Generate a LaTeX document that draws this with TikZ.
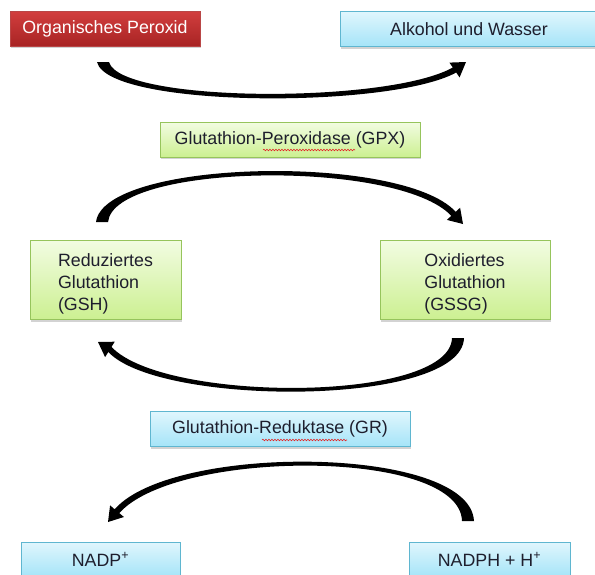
\documentclass[tikz,border=0pt]{standalone}
\usepackage{fontspec}
\setmainfont{Liberation Sans}
\usetikzlibrary{shadows,decorations.pathmorphing}
\definecolor{txtdark}{RGB}{30,30,45}
\definecolor{redtop}{RGB}{210,62,62}
\definecolor{redbot}{RGB}{168,36,36}
\definecolor{redline}{RGB}{185,70,70}
\definecolor{bluetop}{RGB}{224,246,253}
\definecolor{bluebot}{RGB}{165,228,248}
\definecolor{blueline}{RGB}{95,182,208}
\definecolor{greentop}{RGB}{242,252,226}
\definecolor{greenbot}{RGB}{204,240,145}
\definecolor{greenline}{RGB}{150,196,92}
\definecolor{spellred}{RGB}{225,40,40}

\begin{document}
\begin{tikzpicture}[
  x=1pt, y=-1pt,
  box/.style={draw, minimum height=35pt, inner sep=0pt, text=txtdark,
    font=\fontsize{17.8}{22}\selectfont,
    drop shadow={opacity=0.35, shadow xshift=1pt, shadow yshift=-2pt}},
  redbox/.style={box, draw=redline, top color=redtop, bottom color=redbot, text=white},
  bluebox/.style={box, draw=blueline, top color=bluetop, bottom color=bluebot},
  greenbox/.style={box, draw=greenline, top color=greentop, bottom color=greenbot},
  bigbox/.style={greenbox, minimum height=79pt, align=left},
  bendarrow/.style={fill=black},
  spell/.style={spellred, line width=0.6pt, decorate,
    decoration={snake, amplitude=0.8pt, segment length=3pt}}
]
\useasboundingbox (0,0) rectangle (595,574);
\clip (0,0) rectangle (595,574);

% Boxes
\node[redbox, minimum width=190pt] (perox) at (105,28.5) {Organisches Peroxid};
\node[bluebox, minimum width=258pt] (alk) at (469,29) {Alkohol und Wasser};
\node[greenbox, minimum width=260pt] (gpx) at (290,139.5) {Glutathion-Peroxidase (GPX)};
\node[bigbox, minimum width=151pt] (gsh) at (105.5,280) {\rule{0pt}{21pt}Reduziertes\\Glutathion\\(GSH)};
\node[bigbox, minimum width=170pt] (gssg) at (465,280) {\rule{0pt}{21pt}Oxidiertes\\Glutathion\\(GSSG)};
\node[bluebox, minimum width=260pt] (gr) at (280,429) {Glutathion-Reduktase (GR)};
\node[bluebox, minimum width=159pt] (nadp) at (100.5,559.5) {NADP\textsuperscript{+}};
\node[bluebox, minimum width=161pt] (nadph) at (489.5,559.5) {NADPH + H\textsuperscript{+}};

% Spelling marks
\draw[spell] (263,150) -- (355,150);
\draw[spell] (262,440) -- (347,440);

% Curved arrows (tapered bodies)
\coordinate (a1tip) at (466,62);
\coordinate (a2tip) at (463,224);
\coordinate (a3tip) at (98,342);
\coordinate (a4tip) at (108,522);

\fill[bendarrow] (97,62) .. controls (108,108) and (390,109) .. (456.2,72.5)
  -- (459.6,77.4) -- (a1tip) -- (449.4,62.6) -- (452.8,67.5)
  .. controls (388,104) and (120,103) .. (109,62) -- cycle;
\fill[bendarrow] (96,222) .. controls (104,159) and (402,153) .. (455.7,211.8)
  -- (460.1,207.7) -- (a2tip) -- (446.9,219.9) -- (451.3,215.8)
  .. controls (398,159) and (114,163) .. (108,222) -- cycle;
\fill[bendarrow] (464,338) .. controls (462,407) and (160,407) .. (108.3,352)
  -- (105.1,357.1) -- (a3tip) -- (114.7,341.7) -- (111.5,346.9)
  .. controls (164,403) and (450,403) .. (452,338) -- cycle;
\fill[bendarrow] (474,521) .. controls (470,445) and (172,443) .. (114.7,509.3)
  -- (110.1,505.4) -- (a4tip) -- (123.9,517) -- (119.3,513.1)
  .. controls (176,449) and (460,448) .. (462,521) -- cycle;
\end{tikzpicture}
\end{document}
